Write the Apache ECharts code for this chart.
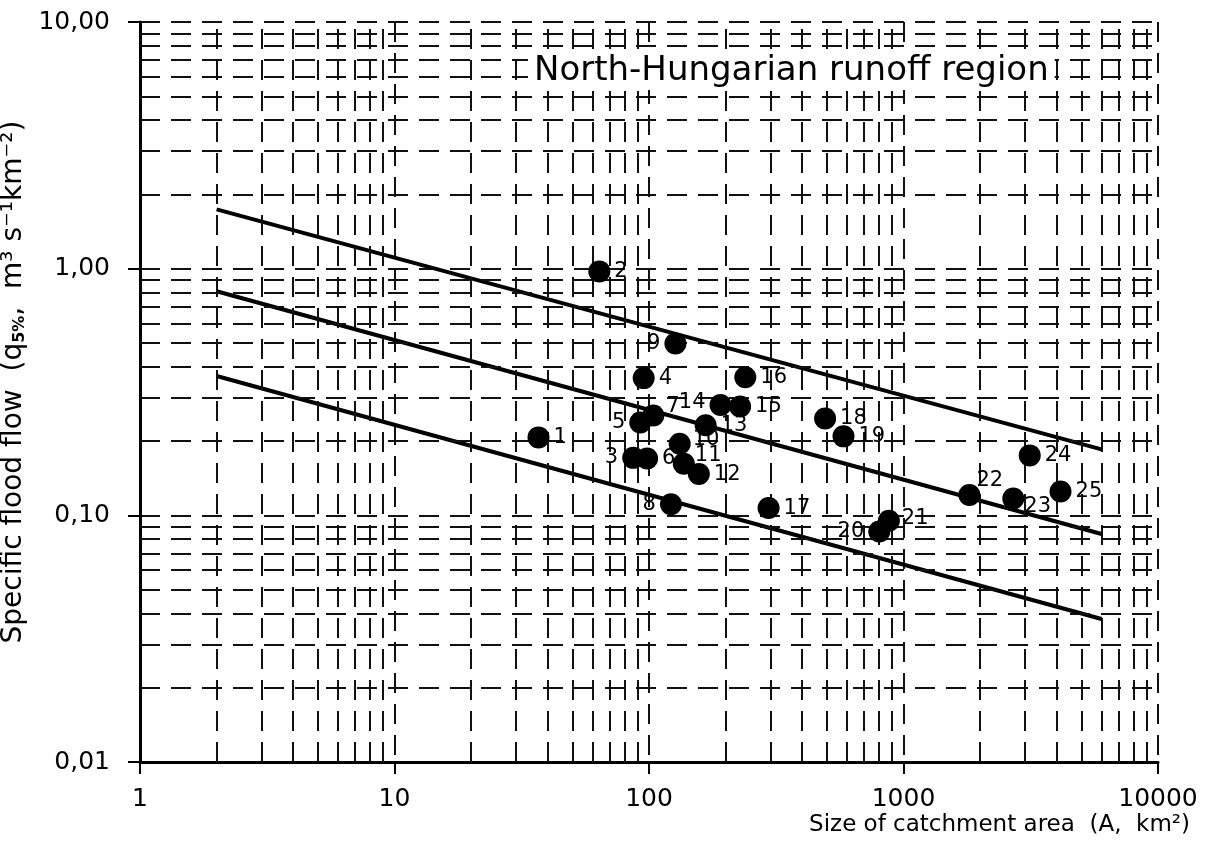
<!DOCTYPE html>
<html>
<head>
<meta charset="utf-8">
<title>Specific flood flow vs catchment area</title>
<script src="https://cdn.jsdelivr.net/npm/echarts@6/dist/echarts.min.js"></script>
<style>
  html, body { margin: 0; padding: 0; background: #fff; }
  #chart { width: 1209px; height: 854px; }
</style>
</head>
<body>
<div id="chart"></div>
<script>
// gauging stations of the North-Hungarian runoff region
const stationIds = ['1', '2', '3', '4', '5', '6', '7', '8', '9', '10', '11', '12', '13',
    '14', '15', '16', '17', '18', '19', '20', '21', '22', '23', '24', '25'];
// catchment area, km2
const areas = [36.8, 63.8, 86.7, 95.3, 92.4, 98.3, 104, 122, 127, 132, 137, 157, 167,
    191, 228, 239, 295, 492, 581, 803, 876, 1815, 2700, 3133, 4140];
// specific flood flow q5%, m3 s-1 km-2
const flows = [0.207, 0.975, 0.171, 0.360, 0.238, 0.170, 0.254, 0.111, 0.497, 0.195, 0.162, 0.147, 0.232,
    0.280, 0.276, 0.363, 0.107, 0.247, 0.209, 0.086, 0.095, 0.121, 0.117, 0.175, 0.125];

// envelope lines, value at both ends
const lineAreas = [2, 6000];
const upperLine = [1.74, 0.185];
const middleLine = [0.81, 0.084];
const lowerLine = [0.367, 0.038];

// axis ticks
const xTicks = [1, 10, 100, 1000, 10000];
const xTickLabels = ['1', '10', '100', '1000', '10000'];
const yTicks = [0.01, 0.1, 1, 10];
const yTickLabels = ['0,01', '0,10', '1,00', '10,00'];
const minorSteps = [2, 3, 4, 5, 6, 7, 8, 9];

// where each station number sits next to its dot
const labelSide = ['right', 'right', 'left', 'right', 'left', 'right', 'right', 'left', 'left', 'right', 'right', 'right', 'right',
    'left', 'right', 'right', 'right', 'right', 'right', 'left', 'right', 'right', 'right', 'right', 'right'];
const labelShift = { 7: [-2, -9], 10: [-2, -4], 11: [-4, -8], 14: [0, -2], 22: [-8, -14], 23: [-4, 8], 21: [-2, -2] };

const FONT = 'DejaVu Sans';
const gridStyle = { color: '#111', width: 2, type: [20, 11] };

const findLabel = (ticks, labels, v) => {
    const i = ticks.findIndex(t => Math.abs(Math.log10(t) - Math.log10(v)) < 1e-6);
    return i < 0 ? '' : labels[i];
};

const minorX = [];
xTicks.slice(0, -1).forEach(d => minorSteps.forEach(m => minorX.push({ xAxis: d * m })));
const minorY = [];
yTicks.slice(0, -1).forEach(d => minorSteps.forEach(m => minorY.push({ yAxis: d * m })));

const points = areas.map((a, i) => {
    const side = labelSide[i];
    const shift = labelShift[stationIds[i]] || [0, 0];
    return {
        value: [a, flows[i]],
        label: { position: side, offset: [side === 'left' ? -shift[0] : shift[0], shift[1]] }
    };
});

const envelope = (vals) => ({
    type: 'line',
    data: lineAreas.map((a, i) => [a, vals[i]]),
    symbol: 'none',
    silent: true,
    z: 4,
    lineStyle: { color: '#000', width: 4 }
});

const chart = echarts.init(document.getElementById('chart'));

const option = {
    animation: false,
    backgroundColor: '#fff',
    title: {
        text: 'North-Hungarian runoff region',
        left: 528,
        top: 52,
        padding: [2, 6],
        backgroundColor: '#fff',
        textStyle: { fontFamily: FONT, fontSize: 34, fontWeight: 'normal', color: '#000' }
    },
    grid: { left: 140, right: 51, top: 22, bottom: 92, outerBoundsMode: 'none' },
    xAxis: {
        type: 'log',
        logBase: 10,
        min: 1,
        max: 10000,
        name: 'Size of catchment area  (A,  km²)',
        nameLocation: 'end',
        nameGap: 32,
        nameTextStyle: {
            fontFamily: FONT, fontSize: 23, color: '#000',
            align: 'right', verticalAlign: 'top', padding: [52, 0, 0, 0]
        },
        axisLine: { lineStyle: { color: '#000', width: 3 } },
        axisTick: { length: 12, lineStyle: { color: '#000', width: 2 } },
        axisLabel: {
            fontFamily: FONT, fontSize: 25, color: '#000', margin: 25,
            formatter: v => findLabel(xTicks, xTickLabels, v)
        },
        splitLine: { show: true, lineStyle: gridStyle }
    },
    yAxis: {
        type: 'log',
        logBase: 10,
        min: 0.01,
        max: 10,
        name: 'Specific flood flow  (q{sub|5%},  m³ s⁻¹km⁻²)',
        nameLocation: 'middle',
        nameRotate: 90,
        nameGap: 98,
        nameTextStyle: {
            fontFamily: FONT, fontSize: 28, color: '#000', padding: [0, 0, 0, 20],
            rich: {
                sub: { fontFamily: FONT, fontSize: 16, fontWeight: 'bold', color: '#000', verticalAlign: 'bottom', padding: [12, 0, 0, 0] }
            }
        },
        axisLine: { lineStyle: { color: '#000', width: 3 } },
        axisTick: { length: 12, lineStyle: { color: '#000', width: 2 } },
        axisLabel: {
            fontFamily: FONT, fontSize: 25, color: '#000', margin: 30,
            formatter: v => findLabel(yTicks, yTickLabels, v)
        },
        splitLine: { show: true, lineStyle: gridStyle }
    },
    series: [
        {
            // log-paper minor grid
            type: 'line',
            data: [],
            silent: true,
            z: 1,
            markLine: {
                silent: true,
                symbol: 'none',
                label: { show: false },
                animation: false,
                lineStyle: gridStyle,
                data: minorX.concat(minorY)
            }
        },
        envelope(upperLine),
        envelope(middleLine),
        envelope(lowerLine),
        {
            type: 'scatter',
            data: points,
            symbolSize: 22,
            z: 5,
            itemStyle: { color: '#000', opacity: 1 },
            label: {
                show: true,
                distance: 4,
                fontFamily: FONT,
                fontSize: 21,
                color: '#000',
                formatter: p => stationIds[p.dataIndex]
            }
        }
    ]
};

chart.setOption(option);
window.addEventListener('resize', () => chart.resize());
</script>
</body>
</html>
